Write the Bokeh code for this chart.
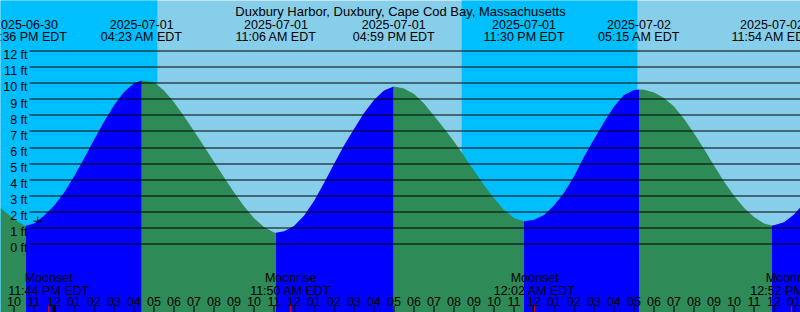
import math
import pandas as pd
from bokeh.plotting import figure
from bokeh.models import Range1d
from bokeh.core.properties import value
from bokeh.embed import file_html
from bokeh.resources import INLINE

# ---------------- data ----------------
title = "Duxbury Harbor, Duxbury, Cape Cod Bay, Massachusetts"
base = pd.Timestamp("2025-06-30 00:00")          # hours are counted from here (EDT)

tide_times = ["2025-06-30 22:36", "2025-07-01 04:23", "2025-07-01 11:06",
              "2025-07-01 16:59", "2025-07-01 23:30", "2025-07-02 05:15",
              "2025-07-02 11:54"]
tide_ft = [1.14, 10.17, 0.70, 9.79, 1.42, 9.61, 1.15]

sunrise_times = ["2025-07-01 05:10", "2025-07-02 05:10"]
sunset_times = ["2025-07-01 20:23"]

moon_times = ["2025-06-30 23:44", "2025-07-01 11:50", "2025-07-02 00:02", "2025-07-02 12:52"]
moon_kind = ["Moonset", "Moonrise", "Moonset", "Moonrise"]

# tide height (hours after 2025-06-30 00:00, feet)
curve_hours = [21.325, 21.5, 22.0, 22.5, 23.0, 23.5, 24.0, 24.5, 25.0, 25.5, 26.0, 26.5,
               27.0, 27.5, 28.0, 28.5, 29.0, 29.5, 30.0, 30.5, 31.0, 31.5, 32.0, 32.5,
               33.0, 33.5, 34.0, 34.5, 35.0, 35.5, 36.0, 36.5, 37.0, 37.5, 38.0, 38.5,
               39.0, 39.5, 40.0, 40.5, 41.0, 41.5, 42.0, 42.5, 43.0, 43.5, 44.0, 44.5,
               45.0, 45.5, 46.0, 46.5, 47.0, 47.5, 48.0, 48.5, 49.0, 49.5, 50.0, 50.5,
               51.0, 51.5, 52.0, 52.5, 53.0, 53.5, 54.0, 54.5, 55.0, 55.5, 56.0, 56.5,
               57.0, 57.5, 58.0, 58.5, 59.0, 59.5, 60.0, 60.5, 61.0, 61.325]
curve_ft = [2.27, 2.05, 1.55, 1.16, 1.28, 1.76, 2.38, 3.18, 4.19, 5.32, 6.48, 7.60,
            8.62, 9.45, 10.00, 10.15, 10.05, 9.55, 8.82, 7.95, 7.02, 6.08, 5.12, 4.15,
            3.22, 2.35, 1.60, 1.05, 0.72, 0.80, 1.12, 1.75, 2.68, 3.80, 4.98, 6.12,
            7.15, 8.15, 8.95, 9.55, 9.79, 9.67, 9.33, 8.74, 7.98, 7.20, 6.38, 5.48,
            4.56, 3.67, 2.84, 2.12, 1.62, 1.42, 1.51, 1.80, 2.39, 3.18, 4.22, 5.42,
            6.52, 7.57, 8.55, 9.27, 9.57, 9.59, 9.42, 9.08, 8.55, 7.78, 6.88, 5.90,
            4.88, 3.88, 3.00, 2.25, 1.68, 1.28, 1.16, 1.35, 1.83, 2.29]

mark_hours = [23.19]
mark_ft = [1.42]

y_ticks = list(range(0, 13))

# ---------------- layout / style ----------------
W, H = 800, 312
X0, X1 = 21.325, 61.325
PX_PER_H = W / (X1 - X0)
FT0_PX, PX_PER_FT = 243.5, 16.083

DAY, NIGHT = "#87CEEB", "#00BFFF"
FLOOD, EBB = "#0000FF", "#2E8B57"
FONT = value("Liberation Sans")
FSIZE = value("12.5px")
TSIZE = value("13px")


def hrs(s):
    return (pd.Timestamp(s) - base).total_seconds() / 3600.0


def fx(px):
    return X0 + px / PX_PER_H


def fy(py):
    return (FT0_PX - py) / PX_PER_FT


def snap(v):
    # place a 1px line on a pixel row centre
    return fy(math.floor(FT0_PX - PX_PER_FT * v) + 0.5)


YBOT, YTOP = fy(H), fy(0)

p = figure(width=W, height=H, x_range=Range1d(X0, X1), y_range=Range1d(YBOT, YTOP),
           output_backend="svg", toolbar_location=None, min_border=0,
           x_axis_location=None, y_axis_location=None)
p.grid.visible = False
p.outline_line_color = None
p.background_fill_color = DAY
p.border_fill_color = DAY

# night bands
sr = [hrs(s) for s in sunrise_times]
ss = [hrs(s) for s in sunset_times]
p.quad(left=[X0 - 1, ss[0]], right=[sr[0], sr[1]], bottom=YBOT - 1, top=YTOP + 1,
       fill_color=NIGHT, line_color=None)

# water fill: rising = flood colour, falling = ebb colour
tide_h = [hrs(s) for s in tide_times]
pts = sorted(list(zip(curve_hours, curve_ft)) + list(zip(tide_h, tide_ft)))
bounds = [X0] + tide_h + [X1]
bound_ft = [curve_ft[0]] + tide_ft + [curve_ft[-1]]
for i in range(len(bounds) - 1):
    a, b = bounds[i], bounds[i + 1]
    seg = [(t, h) for t, h in pts if a - 1e-6 <= t <= b + 1e-6]
    color = FLOOD if bound_ft[i + 1] > bound_ft[i] else EBB
    p.varea(x=[t for t, _ in seg], y1=YBOT - 1, y2=[h for _, h in seg],
            fill_color=color)

# height grid lines
gy = [snap(v) for v in y_ticks]
p.segment(x0=[fx(29)] * len(y_ticks), x1=[X1 + 1] * len(y_ticks), y0=gy, y1=gy,
          line_color="black", line_width=1)

# "+" marker
p.scatter(x=mark_hours, y=mark_ft, marker="cross", size=9, line_color="black", line_width=1)

# y labels
p.text(x=[fx(27)] * len(y_ticks), y=[fy(FT0_PX - PX_PER_FT * v + 4.3) for v in y_ticks],
       text=[f"{v} ft" for v in y_ticks], text_align="right", text_baseline="alphabetic",
       text_font=FONT, text_font_size=FSIZE, text_color="black")

# title
p.text(x=[(X0 + X1) / 2], y=[fy(11)], text=[title], text_align="center",
       text_baseline="alphabetic", text_font=FONT, text_font_size=TSIZE, text_color="black")

# tide event labels
tide_dates = [pd.Timestamp(s).strftime("%Y-%m-%d") for s in tide_times]
tide_clock = [pd.Timestamp(s).strftime("%I:%M %p") + " EDT" for s in tide_times]
p.text(x=tide_h, y=[fy(24)] * len(tide_h), text=tide_dates, text_align="center",
       text_baseline="alphabetic", text_font=FONT, text_font_size=FSIZE, text_color="black")
p.text(x=tide_h, y=[fy(36)] * len(tide_h), text=tide_clock, text_align="center",
       text_baseline="alphabetic", text_font=FONT, text_font_size=FSIZE, text_color="black")

# hour ticks and labels
hour_list = list(range(math.ceil(X0), math.floor(X1) + 1))
hour_lbl = [(base + pd.Timedelta(hours=h)).strftime("%I") for h in hour_list]
hour_w = [3 if h % 24 == 0 else 1 for h in hour_list]
p.segment(x0=hour_list, x1=hour_list, y0=[fy(305)] * len(hour_list), y1=[YBOT - 1] * len(hour_list),
          line_color="black", line_width=hour_w)
p.text(x=hour_list, y=[fy(301)] * len(hour_list), text=hour_lbl, text_align="center",
       text_baseline="alphabetic", text_font=FONT, text_font_size=FSIZE, text_color="black")

# moon events
moon_h = [hrs(s) for s in moon_times]
moon_clock = [pd.Timestamp(s).strftime("%I:%M %p") + " EDT" for s in moon_times]
p.segment(x0=moon_h, x1=moon_h, y0=[fy(305)] * len(moon_h), y1=[YBOT - 1] * len(moon_h),
          line_color="red", line_width=1)
p.text(x=moon_h, y=[fy(277)] * len(moon_h), text=moon_kind, text_align="center",
       text_baseline="alphabetic", text_font=FONT, text_font_size=FSIZE, text_color="black")
p.text(x=moon_h, y=[fy(290)] * len(moon_h), text=moon_clock, text_align="center",
       text_baseline="alphabetic", text_font=FONT, text_font_size=FSIZE, text_color="black")

open("out.html", "w").write(file_html(p, INLINE))
